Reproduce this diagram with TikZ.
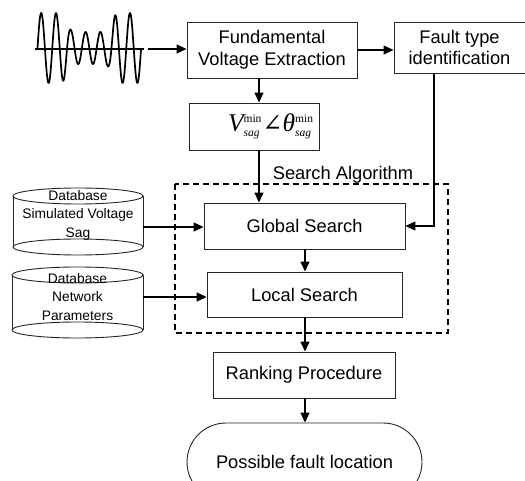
\documentclass[tikz,border=0pt]{standalone}
\usepackage{fontspec}
\setmainfont{Liberation Sans}
\newfontfamily\tnr{Liberation Serif}
\newfontfamily\djv{DejaVu Serif}
\usetikzlibrary{arrows.meta,shapes.misc}

% stacked superscript / subscript pair
\newcommand\supsub[2]{{\tnr\fontsize{11.5}{11.5}\selectfont\rlap{\raisebox{-5pt}{\itshape #2}}\raisebox{9pt}{#1}}}

\begin{document}
\begin{tikzpicture}[x=1pt,y=-1pt,
  box/.style={draw=black!85, line width=0.9pt, fill=white, inner sep=0pt,
    align=center, font=\fontsize{18.3}{21.7}\selectfont},
  conn/.style={line width=1.2pt, -{Triangle[length=10pt,width=9pt]}},
  dbshape/.style={line width=0.9pt, draw=black!85},
  dbtext/.style={inner sep=0pt, align=center, font=\fontsize{13.8}{18.5}\selectfont}]

\clip (0,0) rectangle (525,481);
\fill[white] (0,0) rectangle (525,481);

% input waveform (voltage with a sag)
\draw[line width=1.3pt] (35,49) -- (144,49);
\draw[line width=1.7pt, line join=round]
  plot[domain=0:7, samples=400]
  ({37.5+14.8*\x},
   {48 - (35 - 19/((1+exp(min(9,-8*(\x-2))))*(1+exp(min(9,8*(\x-5))))))*sin(360*\x)});
\coordinate (wavend) at (148,49);

% search algorithm frame
\draw[line width=1.3pt, dash pattern=on 6pt off 4pt] (175,184) rectangle (448,333);
\node[inner sep=0pt, anchor=base, font=\fontsize{18.3}{21.7}\selectfont] (salg) at (343,180) {Search Algorithm};

% process blocks
\node[box, minimum width=170pt, minimum height=56pt] (fve) at (272,50) {Fundamental\\Voltage Extraction};
\node[box, minimum width=131pt, minimum height=51pt] (fti) at (459.5,47.5) {Fault type\\identification};
\node[box, minimum width=130pt, minimum height=47pt] (vsag) at (254,126.5)
  {\hspace*{33pt}{\tnr\fontsize{25.5}{25.5}\selectfont\itshape V}\supsub{min}{sag}\kern1pt{\djv\fontsize{24}{24}\selectfont ∠}{\tnr\fontsize{25.5}{25.5}\selectfont\itshape θ}\supsub{min}{sag}};
\node[box, minimum width=201pt, minimum height=46pt] (glob) at (304.5,226) {Global Search};
\node[box, minimum width=195pt, minimum height=45pt] (loc) at (304.5,294.5) {Local Search};
\node[box, minimum width=182pt, minimum height=46pt] (rank) at (304,375) {Ranking Procedure};
\node[box, rounded rectangle, minimum width=235pt, minimum height=78pt] (poss) at (304.5,462) {Possible fault location};

% databases
\draw[dbshape] (13,196) -- (13,247) (143,196) -- (143,247);
\draw[dbshape] (78,196) ellipse [x radius=65, y radius=8];
\draw[dbshape] (78,247) ellipse [x radius=65, y radius=8];
\node[dbtext] (db1) at (78,215) {Database\\Simulated Voltage\\Sag};
\coordinate (db1e) at (143,227);

\draw[dbshape] (12,275) -- (12,330) (143,275) -- (143,330);
\draw[dbshape] (77.5,275) ellipse [x radius=65.5, y radius=8];
\draw[dbshape] (77.5,330) ellipse [x radius=65.5, y radius=8];
\node[dbtext] (db2) at (77.5,297) {Database\\Network\\Parameters};
\coordinate (db2e) at (143,297);

% connectors
\coordinate (c1) at (259,0);
\coordinate (c2) at (305,0);
\coordinate (c3) at (434,0);
\draw[conn] (wavend) -- (wavend -| fve.west);
\draw[conn] (fve.east) -- (fve.east -| fti.west);
\draw[conn] (fve.south -| c1) -- (vsag.north -| c1);
\draw[conn] (vsag.south -| c1) -- (glob.north -| c1);
\draw[conn] (fti.south -| c3) |- (glob.east);
\draw[conn] (db1e) -- (db1e -| glob.west);
\draw[conn] (db2e) -- (db2e -| loc.west);
\draw[conn] (glob.south -| c2) -- (loc.north -| c2);
\draw[conn] (loc.south -| c2) -- (rank.north -| c2);
\draw[conn] (rank.south -| c2) -- (poss.north -| c2);
\end{tikzpicture}
\end{document}
